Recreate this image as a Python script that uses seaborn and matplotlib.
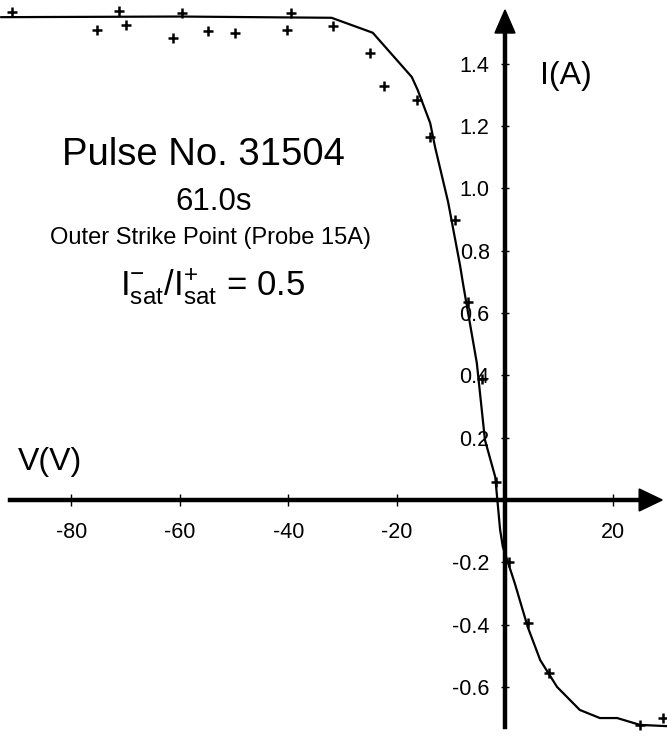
import numpy as np
import pandas as pd
import matplotlib
matplotlib.use("Agg")
import matplotlib.pyplot as plt
from matplotlib.patches import Polygon
import seaborn as sns

# ---- data ----
pts_V = [-91.0, -75.3, -71.2, -69.9, -61.3, -59.6, -54.8, -49.8, -40.2, -39.5,
         -31.7, -24.9, -22.3, -16.2, -13.8, -9.2, -6.8, -4.2, -1.7, 0.7,
         4.2, 8.1, 24.9, 29.1]
pts_I = [1.565, 1.509, 1.570, 1.525, 1.483, 1.563, 1.506, 1.499, 1.509, 1.563,
         1.522, 1.435, 1.329, 1.284, 1.165, 0.899, 0.636, 0.390, 0.058, -0.199,
         -0.395, -0.555, -0.722, -0.700]

fit_V = [-93.0, -60.0, -32.0, -24.4, -17.2, -16.1, -13.8, -12.9, -10.5, -8.3,
         -7.7, -5.2, -3.7, -1.8, -0.9, -0.4, 1.8, 4.2, 6.5, 9.6,
         13.8, 17.5, 20.7, 24.9, 29.9]
fit_I = [1.550, 1.552, 1.548, 1.500, 1.358, 1.316, 1.210, 1.133, 0.957, 0.754,
         0.690, 0.440, 0.193, 0.074, -0.096, -0.150, -0.267, -0.408, -0.514, -0.600,
         -0.674, -0.700, -0.700, -0.722, -0.726]

x_ticks = [-80, -60, -40, -20, 20]
x_ticklabels = ["-80", "-60", "-40", "-20", "20"]
y_ticks = [-0.6, -0.4, -0.2, 0.2, 0.4, 0.6, 0.8, 1.0, 1.2, 1.4]
y_ticklabels = ["-0.6", "-0.4", "-0.2", "0.2", "0.4", "0.6", "0.8", "1.0", "1.2", "1.4"]

pts = pd.DataFrame({"V": pts_V, "I": pts_I})
fit = pd.DataFrame({"V": fit_V, "I": fit_I})

sns.set_theme(style="white")
plt.rcParams["font.family"] = ["Liberation Sans", "DejaVu Sans"]
plt.rcParams["mathtext.fontset"] = "custom"
plt.rcParams["mathtext.rm"] = "Liberation Sans"
plt.rcParams["mathtext.it"] = "Liberation Sans:italic"
plt.rcParams["mathtext.bf"] = "Liberation Sans:bold"
plt.rcParams["axes.unicode_minus"] = False

W, H = 667, 741
fig = plt.figure(figsize=(W / 100, H / 100), dpi=100)
fig.patch.set_facecolor("white")
ax = fig.add_axes([0, 0, 1, 1])
ax.set_facecolor("white")

x0, x1 = -93.17, 29.89
y0, y1 = -0.7737, 1.6051
ax.set_xlim(x0, x1)
ax.set_ylim(y0, y1)

sns.lineplot(data=fit, x="V", y="I", ax=ax, color="black", lw=1.6,
             estimator=None, sort=False)
sns.scatterplot(data=pts, x="V", y="I", ax=ax, marker="+", s=60,
                color="black", linewidth=1.8, zorder=5)

# axes through origin
for s in ["top", "right"]:
    ax.spines[s].set_visible(False)
ax.spines["left"].set_position(("data", 0))
ax.spines["bottom"].set_position(("data", 0))
ax.spines["left"].set_bounds(-0.729, 1.51)
ax.spines["bottom"].set_bounds(-91.3, 26.0)
for s in ["left", "bottom"]:
    ax.spines[s].set_linewidth(3.2)
    ax.spines[s].set_color("black")

ax.set_xticks(x_ticks)
ax.set_xticklabels(x_ticklabels)
ax.set_yticks(y_ticks)
ax.set_yticklabels(y_ticklabels)
ax.tick_params(axis="x", direction="inout", length=8, width=1.0, pad=12,
               labelsize=15.5, colors="black", bottom=True)
ax.tick_params(axis="y", direction="inout", length=6, width=1.0, pad=8,
               labelsize=15.5, colors="black", left=True)
ax.set_xlabel("")
ax.set_ylabel("")

# arrowheads (pixel-sized, placed in data coords)
px_x = (x1 - x0) / W
px_y = (y1 - y0) / H
ax.add_patch(Polygon([[29.0, 0], [29.0 - 23 * px_x, 11 * px_y], [29.0 - 23 * px_x, -11 * px_y]],
                     closed=True, color="black", zorder=6, clip_on=False))
ax.add_patch(Polygon([[0, 1.573], [-10 * px_x, 1.573 - 23 * px_y], [10 * px_x, 1.573 - 23 * px_y]],
                     closed=True, color="black", zorder=6, clip_on=False))

def ftext(x, y, s, size, ha="center", va="center"):
    fig.text(x / W, 1 - y / H, s, fontsize=size, ha=ha, va=va, color="black")

ftext(203, 155, "Pulse No. 31504", 27.5)
ftext(214, 202, "61.0s", 22.5)
ftext(210, 238, "Outer Strike Point (Probe 15A)", 17)
ftext(120, 287, r"$\mathrm{I_{sat}^{-}/I_{sat}^{+}}$ = 0.5", 25, ha="left")
ftext(540, 76, "I(A)", 23, ha="left")
ftext(18, 462, "V(V)", 23, ha="left")

fig.savefig("out.png", dpi=100, facecolor="white")
